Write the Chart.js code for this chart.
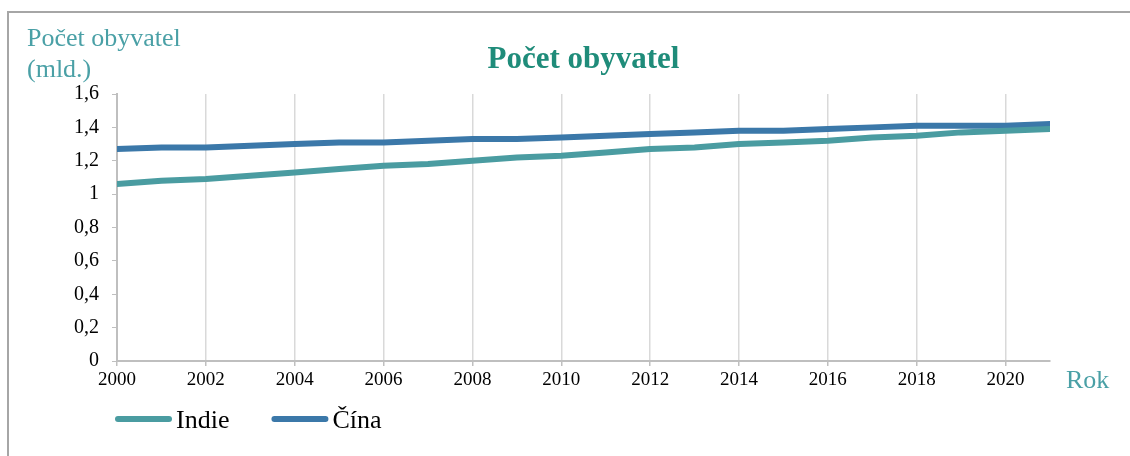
<!DOCTYPE html>
<html lang="cs">
<head>
<meta charset="utf-8">
<title>Počet obyvatel</title>
<script src="https://cdn.jsdelivr.net/npm/chart.js@4.4.1/dist/chart.umd.min.js"></script>
<style>
    html, body { margin: 0; padding: 0; background: #ffffff; }
    #wrap { position: relative; width: 1130px; height: 456px; overflow: hidden; }
    #frame {
        position: absolute; left: 7px; top: 11px; right: -10px; bottom: -10px;
        border-left: 2px solid #a6a6a6; border-top: 2px solid #a6a6a6;
        pointer-events: none;
    }
    #chart { position: absolute; left: 0; top: 0; }
</style>
</head>
<body>
<div id="wrap">
    <div id="frame"></div>
    <canvas id="chart" width="1130" height="456"></canvas>
</div>
<script>
// Data (population in billions)
const roky = [2000, 2001, 2002, 2003, 2004, 2005, 2006, 2007, 2008, 2009, 2010,
              2011, 2012, 2013, 2014, 2015, 2016, 2017, 2018, 2019, 2020, 2021];
const indie = [1.06, 1.08, 1.09, 1.11, 1.13, 1.15, 1.17, 1.18, 1.20, 1.22, 1.23,
               1.25, 1.27, 1.28, 1.30, 1.31, 1.32, 1.34, 1.35, 1.37, 1.38, 1.39];
const cina = [1.27, 1.28, 1.28, 1.29, 1.30, 1.31, 1.31, 1.32, 1.33, 1.33, 1.34,
              1.35, 1.36, 1.37, 1.38, 1.38, 1.39, 1.40, 1.41, 1.41, 1.41, 1.42];
const nazvySerii = ['Indie', 'Čína'];
const titulek = 'Počet obyvatel';
const titulekOsyY = ['Počet obyvatel', '(mld.)'];
const titulekOsyX = 'Rok';

const FONT = '"Liberation Serif", "Times New Roman", serif';
const barvy = ['#4a9ca1', '#3b78a9'];

// Titles and legend drawn on the canvas
const textyPlugin = {
    id: 'texty',
    afterDraw(chart) {
        const ctx = chart.ctx;
        const area = chart.chartArea;
        ctx.save();

        // main title, centred over the plot area
        ctx.font = 'bold 31px ' + FONT;
        ctx.fillStyle = '#1f8c7a';
        ctx.textAlign = 'center';
        ctx.textBaseline = 'alphabetic';
        ctx.fillText(titulek, (area.left + area.right) / 2, 68);

        // axis titles
        ctx.font = '26px ' + FONT;
        ctx.fillStyle = '#4aa0a6';
        ctx.textAlign = 'left';
        ctx.fillText(titulekOsyY[0], 27, 46);
        ctx.fillText(titulekOsyY[1], 27, 77);
        ctx.fillText(titulekOsyX, 1066, 388);

        // legend
        let x = 115;
        const y = 419;
        chart.data.datasets.forEach(ds => {
            ctx.strokeStyle = ds.borderColor;
            ctx.lineWidth = 6;
            ctx.lineCap = 'round';
            ctx.beginPath();
            ctx.moveTo(x + 3, y);
            ctx.lineTo(x + 54, y);
            ctx.stroke();
            ctx.fillStyle = '#000000';
            ctx.font = '26px ' + FONT;
            ctx.fillText(ds.label, x + 61, 428);
            x += 61 + ctx.measureText(ds.label).width + 42;
        });
        ctx.restore();
    }
};

function formatCislo(v) {
    const r = Math.round(v * 10) / 10;
    return String(r).replace('.', ',');
}

function vytvorGraf() {
    const canvas = document.getElementById('chart');
    const existing = Chart.getChart(canvas);
    if (existing) existing.destroy();

    return new Chart(canvas, {
        type: 'line',
        data: {
            datasets: [
                {
                    label: nazvySerii[0],
                    data: roky.map((r, i) => ({ x: r, y: indie[i] })),
                    borderColor: barvy[0],
                    backgroundColor: barvy[0],
                    borderWidth: 6,
                    borderJoinStyle: 'round',
                    borderCapStyle: 'round',
                    pointRadius: 0,
                    tension: 0,
                    fill: false
                },
                {
                    label: nazvySerii[1],
                    data: roky.map((r, i) => ({ x: r, y: cina[i] })),
                    borderColor: barvy[1],
                    backgroundColor: barvy[1],
                    borderWidth: 6,
                    borderJoinStyle: 'round',
                    borderCapStyle: 'round',
                    pointRadius: 0,
                    tension: 0,
                    fill: false
                }
            ]
        },
        options: {
            responsive: false,
            animation: false,
            layout: {
                padding: { left: 57, right: 80, top: 94, bottom: 55 }
            },
            plugins: {
                legend: { display: false },
                title: { display: false },
                tooltip: { enabled: false }
            },
            scales: {
                x: {
                    type: 'linear',
                    min: 2000,
                    max: 2021,
                    afterFit: scale => { scale.height = 40; },
                    grid: {
                        color: '#d9d9d9',
                        lineWidth: 1.5,
                        drawTicks: true,
                        tickLength: 5,
                        tickColor: '#bfbfbf'
                    },
                    border: { color: '#bfbfbf', width: 2 },
                    ticks: {
                        stepSize: 2,
                        includeBounds: false,
                        padding: 3,
                        color: '#000000',
                        font: { family: FONT, size: 19 },
                        maxRotation: 0,
                        callback: v => String(v)
                    }
                },
                y: {
                    min: 0,
                    max: 1.6,
                    afterFit: scale => { scale.width = 60; },
                    grid: {
                        drawOnChartArea: false,
                        drawTicks: true,
                        tickLength: 5,
                        color: '#bfbfbf'
                    },
                    border: { color: '#bfbfbf', width: 2 },
                    ticks: {
                        stepSize: 0.2,
                        padding: 13,
                        color: '#000000',
                        font: { family: FONT, size: 20 },
                        callback: v => formatCislo(v)
                    }
                }
            }
        },
        plugins: [textyPlugin]
    });
}

window.graf = vytvorGraf();
</script>
</body>
</html>
